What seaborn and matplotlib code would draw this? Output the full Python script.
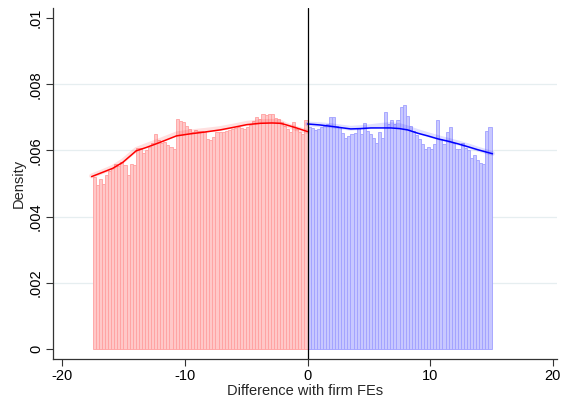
import numpy as np
import pandas as pd
import matplotlib
matplotlib.use("Agg")
import matplotlib.pyplot as plt
import seaborn as sns

# ---- data (density per 0.25-wide bin) ----
bin_width = 0.25
red_start = -17.5
red_density = [5.21, 4.96, 5.14, 4.99, 5.27, 5.39, 5.48, 5.59, 5.54, 5.64,
               5.57, 5.27, 5.59, 5.57, 6.06, 6.06, 5.91, 6.00, 6.10, 6.21,
               6.50, 6.32, 6.21, 6.27, 6.16, 6.10, 6.04, 6.95, 6.90, 6.87,
               6.75, 6.65, 6.57, 6.62, 6.60, 6.58, 6.55, 6.35, 6.32, 6.42,
               6.55, 6.55, 6.55, 6.60, 6.62, 6.65, 6.68, 6.70, 6.68, 6.65,
               6.72, 6.78, 6.88, 7.00, 6.95, 7.10, 7.08, 7.10, 7.10, 6.98,
               6.95, 6.85, 6.75, 6.65, 6.55, 6.85, 6.65, 6.55, 6.50, 6.92]
blue_start = 0.0
blue_density = [6.70, 6.67, 6.62, 6.65, 6.70, 6.75, 6.80, 7.02, 7.02, 6.75,
                6.70, 6.52, 6.39, 6.45, 6.50, 6.52, 6.68, 6.50, 6.83, 6.60,
                6.50, 6.39, 6.24, 6.55, 6.39, 7.17, 6.80, 6.92, 6.80, 6.92,
                7.30, 7.38, 7.05, 6.75, 6.60, 6.48, 6.35, 6.20, 6.04, 6.11,
                6.04, 6.20, 6.92, 6.35, 6.20, 6.55, 6.70, 6.24, 6.04, 6.04,
                6.24, 6.07, 6.00, 5.77, 5.87, 5.71, 5.61, 5.59, 6.60, 6.72]

# smoothed fits (x, density*1000)
red_fit_x = [-17.6, -16.7, -15.88, -15.06, -13.96, -13.14, -12.05, -10.68, -9.59,
             -8.3, -7.13, -6.0, -4.94, -3.85, -2.9, -2.21, -1.8, -0.9, 0.0]
red_fit_y = [5.21, 5.34, 5.46, 5.64, 5.99, 6.09, 6.24, 6.44, 6.50,
             6.56, 6.62, 6.70, 6.78, 6.82, 6.83, 6.82, 6.78, 6.68, 6.57]
red_band_y = [5.23, 5.36, 5.49, 5.68, 6.03, 6.15, 6.30, 6.50, 6.56,
              6.61, 6.66, 6.74, 6.82, 6.87, 6.88, 6.86, 6.78, 6.66, 6.57]
blue_fit_x = [0.0, 1.0, 1.89, 2.7, 3.52, 4.3, 5.16, 6.0, 6.8, 7.5, 8.17, 8.99,
              9.8, 10.63, 11.45, 12.27, 13.1, 13.9, 15.08]
blue_fit_y = [6.80, 6.77, 6.73, 6.69, 6.65, 6.66, 6.68, 6.68, 6.68, 6.66, 6.62, 6.52,
              6.44, 6.35, 6.28, 6.20, 6.11, 6.02, 5.90]
blue_band_y = [6.80, 6.78, 6.75, 6.71, 6.67, 6.69, 6.72, 6.76, 6.78, 6.75, 6.68, 6.57,
               6.48, 6.39, 6.31, 6.23, 6.14, 6.04, 5.91]

xticks = [-20, -10, 0, 10, 20]
yticks = [0, 0.002, 0.004, 0.006, 0.008, 0.01]
ytick_labels = ["0", ".002", ".004", ".006", ".008", ".01"]

# ---- build tables ----
red = pd.DataFrame({
    "x": red_start + bin_width * (np.arange(len(red_density)) + 0.5),
    "d": np.array(red_density) / 1000.0,
})
blue = pd.DataFrame({
    "x": blue_start + bin_width * (np.arange(len(blue_density)) + 0.5),
    "d": np.array(blue_density) / 1000.0,
})

sns.set_theme(style="white")
plt.rcParams["font.family"] = ["Liberation Sans", "DejaVu Sans"]

fig = plt.figure(figsize=(5.68, 4.03), dpi=100)
ax = fig.add_axes([0.0928, 0.109, 0.887, 0.871])

for y in yticks[1:-1]:
    ax.axhline(y, color="#E6EEF0", lw=0.9, zorder=0)

sns.histplot(data=red, x="x", weights="d", binwidth=bin_width,
             binrange=(red_start, red_start + bin_width * len(red_density)), ax=ax,
             color="#FFC8C8", edgecolor="#FFA0A0", linewidth=0.6, alpha=1.0, zorder=2)
sns.histplot(data=blue, x="x", weights="d", binwidth=bin_width,
             binrange=(blue_start, blue_start + bin_width * len(blue_density)), ax=ax,
             color="#C8C8FF", edgecolor="#A0A0FF", linewidth=0.6, alpha=1.0, zorder=2)

rb = pd.DataFrame({"x": red_fit_x, "y": np.array(red_band_y) / 1000})
rf = pd.DataFrame({"x": red_fit_x, "y": np.array(red_fit_y) / 1000})
bb = pd.DataFrame({"x": blue_fit_x, "y": np.array(blue_band_y) / 1000})
bf = pd.DataFrame({"x": blue_fit_x, "y": np.array(blue_fit_y) / 1000})
sns.lineplot(data=rb, x="x", y="y", ax=ax, color="#FF0000", lw=3.5, alpha=0.12, zorder=3)
sns.lineplot(data=bb, x="x", y="y", ax=ax, color="#0000FF", lw=3.5, alpha=0.12, zorder=3)
sns.lineplot(data=rf, x="x", y="y", ax=ax, color="#FF0000", lw=1.1, zorder=4)
sns.lineplot(data=bf, x="x", y="y", ax=ax, color="#0000FF", lw=1.1, zorder=4)

ax.axvline(0, color="black", lw=0.9, zorder=5)

ax.set_xlim(-20.77, 20.3)
ax.set_ylim(-0.0003, 0.0103)
ax.set_xticks(xticks)
ax.set_xticklabels([str(t) for t in xticks], fontsize=10.5)
ax.set_yticks(yticks)
ax.set_yticklabels(ytick_labels, fontsize=10.5, rotation=90, va="center")
ax.set_xlabel("Difference with firm FEs", fontsize=10.5, labelpad=1)
ax.set_ylabel("Density", fontsize=10.5, labelpad=2)

for s in ["top", "right"]:
    ax.spines[s].set_visible(False)
for s in ["left", "bottom"]:
    ax.spines[s].set_color("#333333")
    ax.spines[s].set_linewidth(0.9)
ax.tick_params(axis="both", direction="out", length=5, width=0.8, color="#333333",
               left=True, bottom=True, pad=2, labelcolor="black")

fig.savefig("out.png", dpi=100)
